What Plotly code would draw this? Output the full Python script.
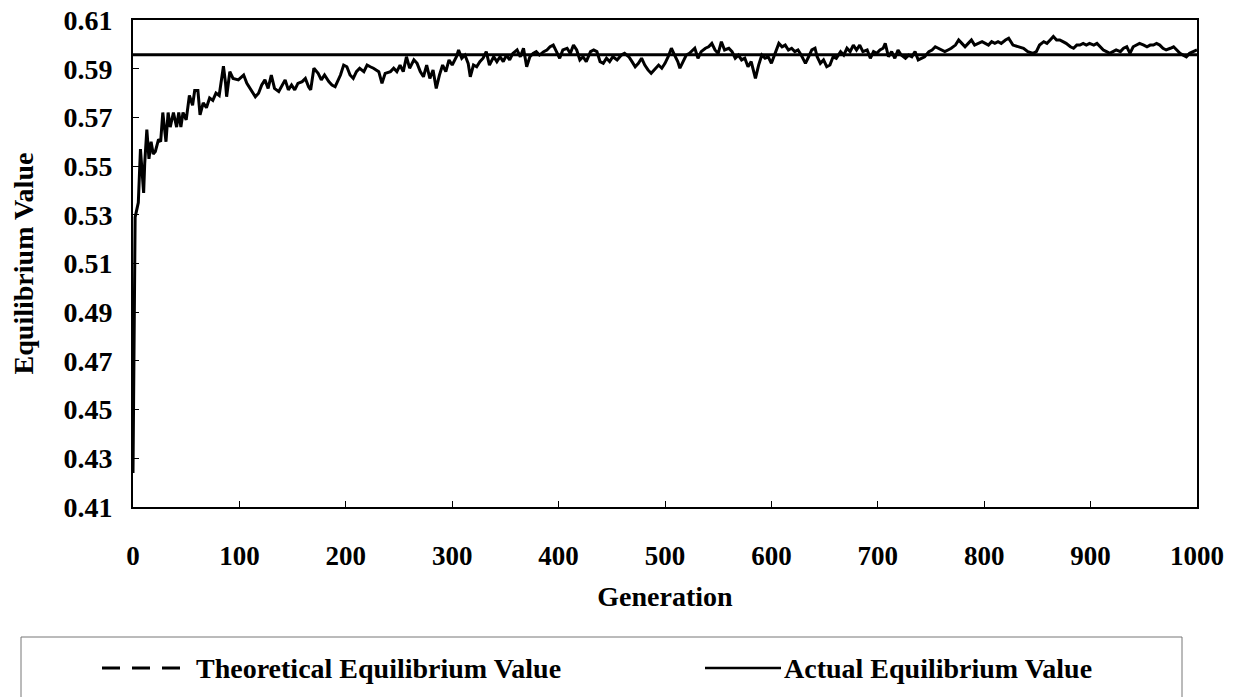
import plotly.graph_objects as go

# ---- data ----
generation = [
    0, 1, 2, 3, 5, 7, 10, 11, 13, 15, 17, 19, 21, 24, 26, 28, 31, 33, 35, 38,
    41, 43, 45, 47, 50, 53, 56, 58, 61, 63, 66, 69, 72, 75, 78, 81, 85,
    87, 88, 91, 94, 99, 104, 107, 110, 115, 118, 121, 124, 127, 130, 133, 137, 140, 143, 146, 149,
    152, 155, 159, 162, 165, 167, 170, 174, 177, 180, 184, 187, 190, 195, 198, 201, 204, 207, 210, 213,
    217, 220, 223, 226, 231, 234, 237, 242, 245, 248, 251, 254, 257, 260, 264, 267, 270, 273,
    276, 279, 282, 285, 288, 291, 294, 297, 300, 304, 306, 309, 312, 315, 317, 320, 323, 326, 329, 332,
    335, 339, 342, 345, 348, 351, 354, 357, 361, 364, 367, 370, 373, 376, 379, 382, 386, 389, 392, 395,
    398, 401, 404, 408, 411, 414, 417, 420, 423, 426, 430, 433, 436, 439, 442, 445, 448, 451, 455,
    459, 462, 466, 469, 472, 475, 478, 481, 484, 487, 491, 494, 497, 500, 503, 506, 509, 512, 514, 517,
    520, 523, 526, 528, 531, 534, 538, 541, 544, 547, 550, 553, 556, 560, 563, 566, 569, 572, 575, 578,
    581, 585, 588, 591, 594, 597, 600, 603, 607, 610, 613, 616, 619, 622, 625, 628, 632, 635, 638, 641,
    643, 646, 649, 652, 655, 658, 661, 665, 668, 671, 674, 677, 680, 683, 686, 690, 693, 696, 699, 702,
    705, 707, 710, 713, 716, 719, 722, 726, 729, 732, 735, 738, 741, 744, 748, 751, 754, 757, 760, 763,
    766, 769, 773, 776, 779, 782, 785, 788, 791, 794, 798, 801, 804, 807, 810, 813, 816, 820, 823,
    827, 832, 837, 841, 846, 849, 852, 856, 859, 862, 865, 868, 871, 874, 877, 881, 884, 887, 890, 893,
    896, 899, 903, 906, 909, 912, 915, 918, 921, 924, 928, 931, 934, 937, 940, 943, 946, 950, 953, 956,
    959, 962, 965, 968, 971, 975, 978, 981, 984, 987, 990, 993, 996, 1000,
]

actual_value = [
    0.424, 0.495, 0.529, 0.531, 0.535, 0.557, 0.539, 0.551, 0.565, 0.553, 0.560, 0.555, 0.556, 0.561, 0.560, 0.572, 0.560, 0.572, 0.566, 0.572,
    0.566, 0.572, 0.566, 0.572, 0.569, 0.579, 0.575, 0.581, 0.581, 0.571, 0.576, 0.574, 0.578, 0.577, 0.580, 0.579, 0.591,
    0.5840, 0.5785, 0.5888, 0.5860, 0.5854, 0.5874, 0.5840, 0.5819, 0.5785, 0.5799, 0.5833, 0.5854, 0.5819, 0.5874, 0.5819, 0.5806, 0.5833, 0.5854, 0.5813, 0.5833,
    0.5813, 0.5840, 0.5847, 0.5860, 0.5826, 0.5813, 0.5902, 0.5881, 0.5854, 0.5874, 0.5847, 0.5833, 0.5826, 0.5874, 0.5915, 0.5908, 0.5874, 0.5860, 0.5888, 0.5902,
    0.5888, 0.5915, 0.5908, 0.5902, 0.5888, 0.5840, 0.5881, 0.5888, 0.5902, 0.5888, 0.5915, 0.5888, 0.5949, 0.5902, 0.5936, 0.5922, 0.5888, 0.5867,
    0.5915, 0.5860, 0.5895, 0.5819, 0.5874, 0.5915, 0.5888, 0.5936, 0.5915, 0.5949, 0.5977, 0.5943, 0.5956, 0.5922, 0.5867, 0.5915, 0.5908, 0.5929, 0.5943, 0.5970,
    0.5915, 0.5949, 0.5929, 0.5949, 0.5929, 0.5956, 0.5936, 0.5963, 0.5977, 0.5949, 0.5984, 0.5908, 0.5949, 0.5963, 0.5970, 0.5956, 0.5970, 0.5977, 0.5990, 0.5997,
    0.5970, 0.5943, 0.5977, 0.5984, 0.5963, 0.5997, 0.5977, 0.5936, 0.5949, 0.5929, 0.5970, 0.5977, 0.5970, 0.5929, 0.5922, 0.5943, 0.5929, 0.5949, 0.5936,
    0.5956, 0.5963, 0.5949, 0.5929, 0.5908, 0.5922, 0.5943, 0.5915, 0.5895, 0.5881, 0.5902, 0.5915, 0.5902, 0.5922, 0.5949, 0.5984, 0.5956, 0.5929, 0.5902, 0.5929,
    0.5956, 0.5963, 0.5977, 0.5984, 0.5943, 0.5970, 0.5984, 0.5990, 0.6004, 0.5977, 0.5963, 0.6011, 0.5977, 0.5984, 0.5970, 0.5943, 0.5956, 0.5936, 0.5943, 0.5908,
    0.5929, 0.5860, 0.5915, 0.5956, 0.5943, 0.5949, 0.5922, 0.5956, 0.6004, 0.5990, 0.5997, 0.5977, 0.5984, 0.5970, 0.5977, 0.5956, 0.5922, 0.5949, 0.5977, 0.5984,
    0.5949, 0.5922, 0.5936, 0.5908, 0.5915, 0.5949, 0.5943, 0.5970, 0.5956, 0.5984, 0.5970, 0.5997, 0.5977, 0.5997, 0.5970, 0.5977, 0.5943, 0.5970, 0.5963, 0.5977,
    0.5984, 0.6004, 0.5949, 0.5970, 0.5943, 0.5977, 0.5956, 0.5943, 0.5956, 0.5949, 0.5970, 0.5936, 0.5943, 0.5949, 0.5970, 0.5977, 0.5990, 0.5984, 0.5977, 0.5970,
    0.5977, 0.5984, 0.5997, 0.6018, 0.6004, 0.5990, 0.6004, 0.6018, 0.5997, 0.6004, 0.6011, 0.6004, 0.5997, 0.6011, 0.6004, 0.6011, 0.6004, 0.6018, 0.6025,
    0.5997, 0.5990, 0.5984, 0.5970, 0.5963, 0.5970, 0.5997, 0.6011, 0.6004, 0.6018, 0.6032, 0.6018, 0.6018, 0.6011, 0.6004, 0.5990, 0.5984, 0.5997, 0.5997, 0.6004,
    0.5997, 0.6004, 0.5997, 0.6004, 0.5990, 0.5977, 0.5970, 0.5963, 0.5970, 0.5977, 0.5970, 0.5984, 0.5990, 0.5963, 0.5990, 0.5997, 0.6004, 0.5997, 0.5990, 0.5997,
    0.5997, 0.6004, 0.5997, 0.5984, 0.5977, 0.5984, 0.5990, 0.5977, 0.5963, 0.5956, 0.5949, 0.5963, 0.5970, 0.5977,
]

theoretical_gen = [0, 1000]
theoretical_value = [0.5957, 0.5957]

x_ticks = [0, 100, 200, 300, 400, 500, 600, 700, 800, 900, 1000]
y_ticks = [0.41, 0.43, 0.45, 0.47, 0.49, 0.51, 0.53, 0.55, 0.57, 0.59, 0.61]

series_names = ["Theoretical Equilibrium Value", "Actual Equilibrium Value"]

assert len(generation) == len(actual_value)

FONT = "Liberation Serif"
W, H = 1238, 697
L, R, T, B = 133, 41, 20, 190
PW, PH = W - L - R, H - T - B


def px(x):
    return (x - L) / PW


def py(y):
    return (H - B - y) / PH


def bold(size):
    return dict(family=FONT, size=size, color="black", weight="bold")


fig = go.Figure()
fig.add_trace(go.Scatter(x=theoretical_gen, y=theoretical_value, mode="lines",
                         name=series_names[0], line=dict(color="black", width=3)))
fig.add_trace(go.Scatter(x=generation, y=actual_value, mode="lines",
                         name=series_names[1], line=dict(color="black", width=3)))

axis_common = dict(showgrid=False, zeroline=False, showline=True, linecolor="black",
                   linewidth=2, mirror=True, ticks="inside", ticklen=6, tickwidth=1,
                   tickcolor="black")

fig.update_xaxes(range=[0, 1000], tickvals=x_ticks, ticklabelstandoff=24, tickfont=bold(27),
                 title=dict(text="Generation", standoff=16, font=bold(28)),
                 **axis_common)
fig.update_yaxes(range=[0.41, 0.61], tickvals=y_ticks, tickformat=".2f", ticklabelstandoff=13,
                 tickfont=bold(28),
                 title=dict(text="Equilibrium Value", standoff=22, font=bold(28)),
                 **axis_common)

# legend box drawn below the chart
shapes = [
    dict(type="rect", xref="paper", yref="paper", x0=px(21), x1=px(1182), y0=py(637), y1=py(705),
         line=dict(color="#777777", width=1), fillcolor="rgba(0,0,0,0)"),
    dict(type="line", xref="paper", yref="paper", x0=px(102), x1=px(182), y0=py(668), y1=py(668),
         line=dict(color="black", width=3, dash="18px,12px")),
    dict(type="line", xref="paper", yref="paper", x0=px(705), x1=px(781), y0=py(668), y1=py(668),
         line=dict(color="black", width=2.5)),
]
annotations = [
    dict(xref="paper", yref="paper", x=px(194), y=py(668), xanchor="left", yanchor="middle",
         text=series_names[0], showarrow=False, font=bold(28)),
    dict(xref="paper", yref="paper", x=px(782), y=py(668), xanchor="left", yanchor="middle",
         text=series_names[1], showarrow=False, font=bold(28)),
]

fig.update_layout(width=W, height=H, margin=dict(l=L, r=R, t=T, b=B, autoexpand=False),
                  plot_bgcolor="white", paper_bgcolor="white", showlegend=False,
                  font=dict(family=FONT, size=26, color="black"),
                  shapes=shapes, annotations=annotations)

fig.write_html("out.html")
